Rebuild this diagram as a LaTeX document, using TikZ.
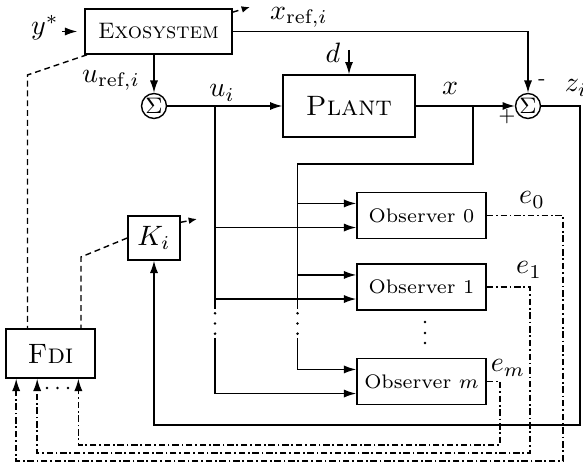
\documentclass[tikz,border=0pt]{standalone}
\usepackage{amsmath,amssymb}
\usepackage{tikz}
\usetikzlibrary{arrows.meta,positioning,calc}

\begin{document}
\begin{tikzpicture}[x=3.57pt, y=3.57pt, line width=0.5pt,
    >={Latex[length=4.4pt,width=2.9pt]},
    block/.style={draw, inner sep=0pt},
    sumnode/.style={draw, circle, inner sep=0pt, minimum size=8.9pt, font=\footnotesize},
    obsbox/.style={block, minimum width=46.1pt, minimum height=16.4pt, font=\scriptsize},
    fdilink/.style={dash pattern=on 2.1pt off 1.4pt},
    residual/.style={dash pattern=on 2.3pt off 1pt on 0.6pt off 1pt},
    reconf/.style={fdilink, -{Latex[length=3pt,width=2.4pt]}}]
  \useasboundingbox (0,0) rectangle (58.3,46.3);

  % Blocks
  \node[block, minimum width=52.5pt, minimum height=16.1pt, font=\footnotesize] (exo) at (15.85,43.15) {\textsc{Exosystem}};
  \node[block, minimum width=47.1pt, minimum height=22.1pt] (plant) at (34.9,35.7) {\textsc{Plant}};
  \node[sumnode] (sum1) at (15.4,35.7) {$\Sigma$};
  \node[sumnode] (sum2) at (52.8,35.7) {$\Sigma$};
  \node[block, minimum width=18.6pt, minimum height=15.7pt] (ki) at (15.4,22.5) {$K_i$};
  \node[obsbox] (obs0) at (42.15,24.75) {Observer 0};
  \node[obsbox] (obs1) at (42.15,17.6) {Observer 1};
  \node[obsbox] (obsm) at (42.15,8.15) {Observer $m$};
  \node[block, minimum width=31.8pt, minimum height=17.5pt] (fdi) at (5.05,10.95) {\textsc{Fdi}};

  % Signal labels
  \node[inner sep=1pt] (ystar) at (4.5,43.5) {$y^*$};
  \node (uref) at (11.1,38.3) {$u_{\text{ref},i}$};
  \node (ulab) at (22.2,37.0) {$u_i$};
  \node (xlab) at (45.0,37.5) {$x$};
  \node[inner sep=1pt] (xref) at (29.9,44.6) {$x_{\text{ref},i}$};
  \node (dlab) at (33.3,41.0) {$d$};
  \node[font=\scriptsize] (minus) at (54.2,38.1) {-};
  \node[font=\scriptsize] (plus) at (50.7,34.6) {+};
  \node (zlab) at (57.6,37.5) {$z_i$};
  \node (e0lab) at (53.2,26.3) {$e_0$};
  \node (e1lab) at (52.9,19.3) {$e_1$};
  \node (emlab) at (50.8,9.5) {$e_m$};

  % Main loop
  \draw[->] (ystar.east |- exo.west) -- ([xshift=-2.5pt]exo.west);
  \draw[->] (exo.south -| sum1) -- (sum1);
  \draw[->] (sum1) -- (plant);
  \draw[->] (plant) -- (sum2);
  \draw[->] (exo) -| (sum2);
  \coordinate (dtop) at (34.9,41.3);
  \draw[->] (dtop) -- (plant);
  \coordinate (zcorner) at (58.0,3.8);
  \draw[->] (sum2) -| (zcorner) -| (ki);

  % Observer inputs
  \coordinate (xtap) at (47.3,35.7);
  \coordinate (xbus) at (29.75,29.9);
  \coordinate (xgap) at (29.75,15.4);
  \coordinate (xgapend) at (29.75,12.5);
  \coordinate (utap) at (21.5,35.7);
  \coordinate (ugap) at (21.5,15.4);
  \coordinate (ugapend) at (21.5,12.5);
  \foreach \obs in {obs0,obs1,obsm} {
    \coordinate (\obs-x) at ([yshift=4.3pt]\obs.west);
    \coordinate (\obs-u) at ([yshift=-4.3pt]\obs.west);
  }
  \draw (xtap) |- (xbus) -- (xgap);
  \draw[->] (xgapend) |- (obsm-x);
  \draw[->] (xbus |- obs0-x) -- (obs0-x);
  \draw[->] (xbus |- obs1-x) -- (obs1-x);
  \draw (utap) -- (ugap);
  \draw[->] (ugapend) |- (obsm-u);
  \draw[->] (utap |- obs0-u) -- (obs0-u);
  \draw[->] (utap |- obs1-u) -- (obs1-u);

  % Dots
  \foreach \k in {0.15,0.5,0.85} {
    \fill ($(xgap)!\k!(xgapend)$) circle (0.5pt);
    \fill ($(ugap)!\k!(ugapend)$) circle (0.5pt);
  }
  \foreach \y in {14.1,13.0,12.0} \fill (42.5,\y) circle (0.5pt);
  \foreach \x in {4.7,5.75,6.8} \fill (\x,7.5) circle (0.5pt);

  % Residuals to FDI
  \coordinate (e0corner) at (56.3,0.2);
  \coordinate (e1corner) at (53.0,1.0);
  \coordinate (emcorner) at (50.0,1.8);
  \draw[residual,->] (obs0) -| (e0corner) -| ([xshift=3.9pt]fdi.south west);
  \draw[residual,->] (obs1) -| (e1corner) -| ([xshift=11.4pt]fdi.south west);
  \draw[residual,->] (obsm) -| (emcorner) -| ([xshift=26.1pt]fdi.south west);

  % FDI links
  \coordinate (exobend) at (2.75,38.8);
  \coordinate (kibend) at (8.1,20.6);
  \draw[fdilink] ([xshift=1pt]exo.south west) -- (exobend) -- (exobend |- fdi.north);
  \draw[fdilink] (ki.west) -- (kibend) -- (kibend |- fdi.north);
  \coordinate (exoout) at (25.0,45.6);
  \coordinate (kiout) at (19.7,24.4);
  \draw[reconf] ([yshift=-1.4pt]exo.north east) -- (exoout);
  \draw[reconf] ([yshift=-2.5pt]ki.north east) -- (kiout);
\end{tikzpicture}
\end{document}
